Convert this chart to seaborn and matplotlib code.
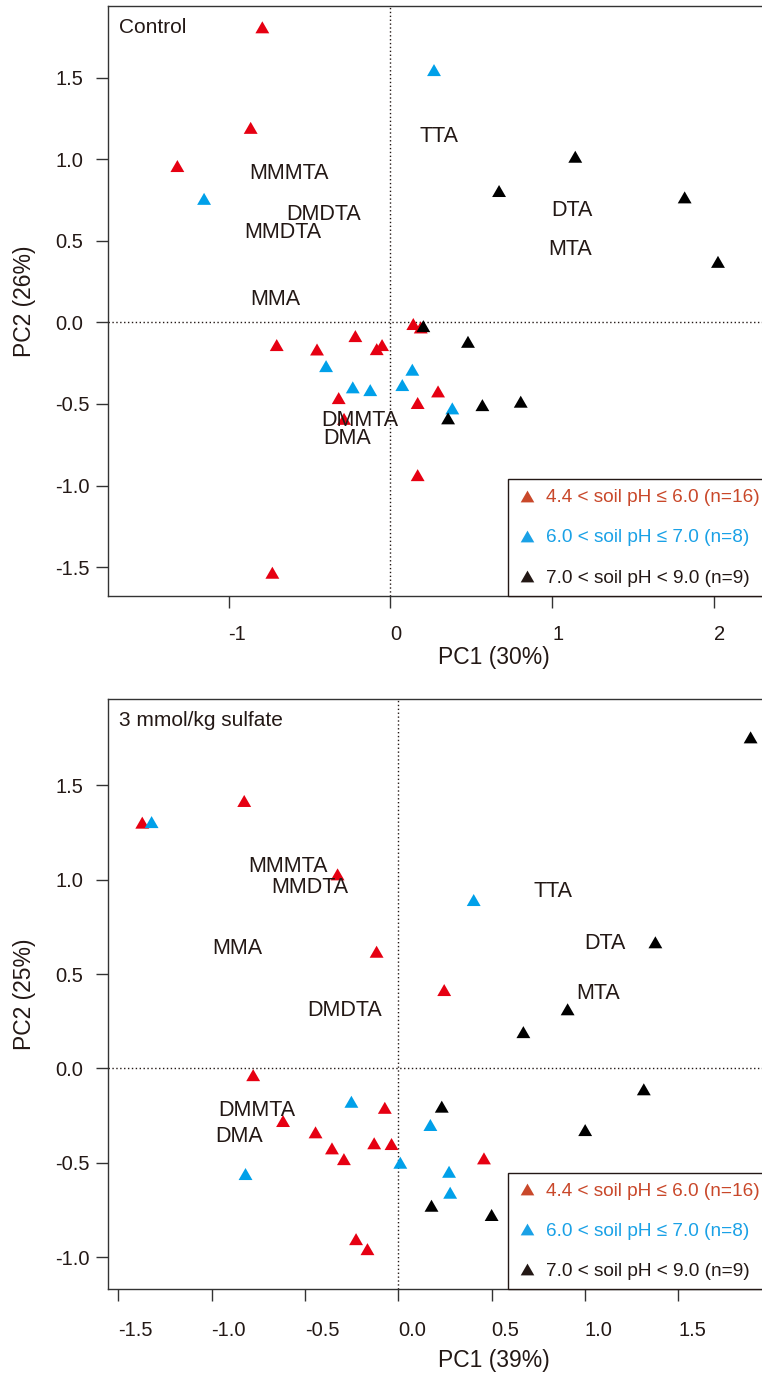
import matplotlib
matplotlib.use("Agg")
import matplotlib.pyplot as plt
from matplotlib.lines import Line2D
from matplotlib.markers import MarkerStyle
from matplotlib.path import Path
import pandas as pd
import seaborn as sns

# Control panel scores
ctrl_low_x = [-0.791, -0.863, -1.316, 0.142, 0.188, -0.216, -0.702, -0.453, -0.051, -0.084,
              0.295, -0.319, 0.169, -0.286, 0.169, -0.729]
ctrl_low_y = [1.808, 1.192, 0.958, -0.010, -0.031, -0.084, -0.139, -0.166, -0.139, -0.164,
              -0.423, -0.464, -0.494, -0.591, -0.936, -1.534]
ctrl_mid_x = [-1.151, 0.270, -0.397, 0.136, 0.074, -0.232, -0.124, 0.383]
ctrl_mid_y = [0.757, 1.546, -0.268, -0.290, -0.384, -0.398, -0.415, -0.527]
ctrl_high_x = [1.143, 0.672, 1.819, 2.025, 0.204, 0.480, 0.569, 0.357, 0.806]
ctrl_high_y = [1.015, 0.805, 0.766, 0.371, -0.023, -0.119, -0.507, -0.588, -0.486]
ctrl_species = ["MMMTA", "DMDTA", "MMDTA", "MMA", "TTA", "DTA", "MTA", "DMMTA", "DMA"]
ctrl_species_x = [-0.624, -0.410, -0.665, -0.711, 0.299, 1.123, 1.109, -0.191, -0.270]
ctrl_species_y = [0.913, 0.662, 0.551, 0.141, 1.137, 0.684, 0.449, -0.603, -0.711]

# 3 mmol/kg sulfate panel scores
sulf_low_x = [-0.825, -1.371, -0.325, -0.116, 0.246, -0.777, -0.072, -0.617, -0.443, -0.355,
              -0.129, -0.036, -0.291, 0.459, -0.226, -0.165]
sulf_low_y = [1.417, 1.302, 1.028, 0.618, 0.415, -0.036, -0.209, -0.279, -0.339, -0.424,
              -0.397, -0.401, -0.481, -0.477, -0.905, -0.958]
sulf_mid_x = [-1.321, 0.404, -0.251, 0.172, 0.011, -0.818, 0.272, 0.278]
sulf_mid_y = [1.305, 0.892, -0.177, -0.300, -0.500, -0.560, -0.548, -0.659]
sulf_high_x = [1.887, 1.377, 0.907, 0.670, 0.233, 1.315, 1.001, 0.178, 0.500]
sulf_high_y = [1.754, 0.668, 0.313, 0.192, -0.203, -0.111, -0.327, -0.728, -0.777]
sulf_species = ["MMMTA", "MMDTA", "MMA", "DMDTA", "TTA", "DTA", "MTA", "DMMTA", "DMA"]
sulf_species_x = [-0.592, -0.473, -0.862, -0.289, 0.830, 1.107, 1.068, -0.755, -0.852]
sulf_species_y = [1.068, 0.959, 0.636, 0.304, 0.936, 0.662, 0.397, -0.221, -0.359]

groups = ["4.4 < soil pH ≤ 6.0 (n=16)", "6.0 < soil pH ≤ 7.0 (n=8)", "7.0 < soil pH < 9.0 (n=9)"]
point_colors = ["#E60012", "#00A0E9", "#000000"]
legend_colors = ["#C9482A", "#1AA1E6", "#231815"]
text_color = "#231815"

sns.set_style("ticks")
plt.rcParams['font.family'] = ['Liberation Sans', 'DejaVu Sans']
plt.rcParams['axes.unicode_minus'] = False

# equilateral triangle marker
tri = MarkerStyle(Path([(-1, -0.866), (1, -0.866), (0, 0.866), (-1, -0.866)], closed=True))


def make_df(xs, ys):
    rows = []
    for g, x, y in zip(groups, xs, ys):
        for a, b in zip(x, y):
            rows.append({"PC1": a, "PC2": b, "group": g})
    return pd.DataFrame(rows)


def pca_panel(ax, df, sp, sp_x, sp_y, title, xlim, ylim, xticks, yticks, xfmt, xlab, ylab,
              tick_pad_x, xlab_y):
    ax.axhline(0, color="#231815", lw=1.0, ls=(0, (1, 1.8)), zorder=1)
    ax.axvline(0, color="#231815", lw=1.0, ls=(0, (1, 1.8)), zorder=1)
    sns.scatterplot(data=df, x="PC1", y="PC2", hue="group", palette=dict(zip(groups, point_colors)),
                    marker=tri, s=100, edgecolor="none", linewidth=0, legend=False, ax=ax, zorder=3)
    for name, a, b in zip(sp, sp_x, sp_y):
        ax.text(a, b, name, ha="center", va="center", fontsize=15.5, color=text_color, zorder=4)
    ax.text(0.0164, 0.963, title, transform=ax.transAxes, ha="left", va="center",
            fontsize=15, color=text_color)
    ax.set_xlim(xlim)
    ax.set_ylim(ylim)
    ax.set_xticks(xticks)
    ax.set_xticklabels([xfmt.format(v) for v in xticks], ha="left")
    ax.set_yticks(yticks)
    ax.set_yticklabels(["{:.1f}".format(v) for v in yticks], ha="left")
    ax.tick_params(axis="both", direction="out", length=8.6, width=1.0, color="#333333",
                   labelsize=14.5, labelcolor=text_color)
    ax.tick_params(axis="x", pad=tick_pad_x)
    ax.tick_params(axis="y", pad=29.5)
    for side in ["left", "bottom", "top"]:
        ax.spines[side].set_color("#333333")
        ax.spines[side].set_linewidth(1.0)
    ax.spines["right"].set_visible(False)
    ax.set_xlabel(xlab, fontsize=16.5, color=text_color, va="center")
    ax.set_ylabel(ylab, fontsize=16.5, color=text_color, va="center")
    ax.xaxis.set_label_coords(0.590, xlab_y)
    ax.yaxis.set_label_coords(-0.128, 0.5)

    handles = [Line2D([], [], ls="none", marker=tri, markersize=9.8, color=c, markeredgewidth=0)
               for c in legend_colors]
    leg = ax.legend(handles, groups, loc="lower left", bbox_to_anchor=(0.611, 0.0),
                    borderaxespad=0, frameon=True, fancybox=False, edgecolor="#231815",
                    framealpha=1, fontsize=13.7, borderpad=0.5, labelspacing=1.2,
                    handlelength=1.0, handletextpad=0.5, labelcolor=legend_colors)
    leg.get_frame().set_linewidth(1.0)
    leg.set_zorder(6)


fig = plt.figure(figsize=(7.62, 13.75), dpi=100)
ax1 = fig.add_axes([0.1421, 0.5665, 0.8579, 0.4293])
ax2 = fig.add_axes([0.1421, 0.0623, 0.8579, 0.4293])

pca_panel(ax1, make_df([ctrl_low_x, ctrl_mid_x, ctrl_high_x], [ctrl_low_y, ctrl_mid_y, ctrl_high_y]),
          ctrl_species, ctrl_species_x, ctrl_species_y, "Control",
          (-1.743, 2.297), (-1.677, 1.940), [-1, 0, 1, 2], [-1.5, -1.0, -0.5, 0.0, 0.5, 1.0, 1.5],
          "{:d}", "PC1 (30%)", "PC2 (26%)", 12, -0.1033)

pca_panel(ax2, make_df([sulf_low_x, sulf_mid_x, sulf_high_x], [sulf_low_y, sulf_mid_y, sulf_high_y]),
          sulf_species, sulf_species_x, sulf_species_y, "3 mmol/kg sulfate",
          (-1.553, 1.948), (-1.171, 1.957), [-1.5, -1.0, -0.5, 0.0, 0.5, 1.0, 1.5],
          [-1.0, -0.5, 0.0, 0.5, 1.0, 1.5],
          "{:.1f}", "PC1 (39%)", "PC2 (25%)", 14, -0.1198)

fig.savefig("out.png", dpi=100)
